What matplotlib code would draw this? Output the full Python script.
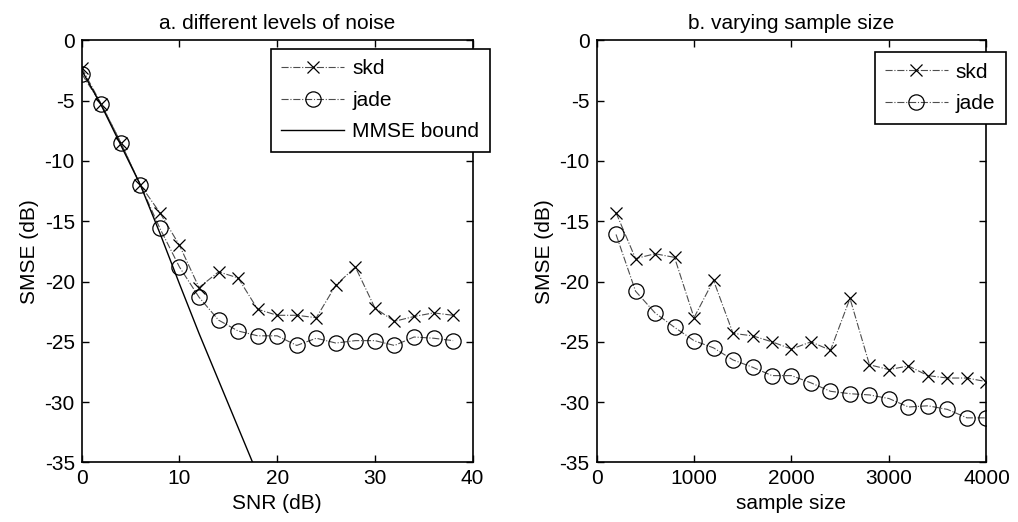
import matplotlib
matplotlib.use("Agg")
import matplotlib.pyplot as plt

plt.rcParams['font.family'] = ['Liberation Sans', 'DejaVu Sans']
plt.rcParams['font.size'] = 15
plt.rcParams['axes.unicode_minus'] = False

# panel a: different levels of noise
snr = [0, 2, 4, 6, 8, 10, 12, 14, 16, 18, 20, 22, 24, 26, 28, 30, 32, 34, 36, 38]
skd_a = [-2.3, -5.3, -8.5, -12.0, -14.3, -17.0, -20.5, -19.2, -19.7, -22.3,
         -22.8, -22.8, -23.0, -20.3, -18.8, -22.2, -23.3, -22.9, -22.6, -22.8]
jade_a = [-2.8, -5.3, -8.5, -12.0, -15.6, -18.8, -21.3, -23.2, -24.1, -24.5,
          -24.5, -25.3, -24.7, -25.1, -24.9, -24.9, -25.3, -24.6, -24.7, -24.9]
snr_bound = [0, 2, 4, 6, 8, 10, 12, 14, 16, 18]
mmse_bound = [-2.5, -5.4, -8.7, -12.0, -16.0, -20.2, -24.3, -28.2, -32.1, -36.0]

# panel b: varying sample size
n_samples = [200, 400, 600, 800, 1000, 1200, 1400, 1600, 1800, 2000,
             2200, 2400, 2600, 2800, 3000, 3200, 3400, 3600, 3800, 4000]
skd_b = [-14.3, -18.1, -17.7, -18.0, -23.0, -19.9, -24.3, -24.5, -25.0, -25.6,
         -25.0, -25.7, -21.4, -26.9, -27.3, -27.0, -27.8, -28.0, -28.0, -28.3]
jade_b = [-16.1, -20.8, -22.6, -23.8, -24.9, -25.5, -26.5, -27.1, -27.8, -27.8,
          -28.4, -29.1, -29.3, -29.4, -29.7, -30.4, -30.3, -30.6, -31.3, -31.3]

fig = plt.figure(figsize=(10.18, 5.22), dpi=100)
ax1 = fig.add_axes([0.0803, 0.114, 0.384, 0.809])
ax2 = fig.add_axes([0.586, 0.114, 0.383, 0.809])

line_kw = dict(color='0.3', linestyle='-.', linewidth=0.8, markeredgecolor='black',
               markeredgewidth=0.9)

ax1.plot(snr, skd_a, marker='x', markersize=8, label='skd', **line_kw)
ax1.plot(snr, jade_a, marker='o', markersize=11, fillstyle='none', label='jade', **line_kw)
ax1.plot(snr_bound, mmse_bound, color='black', linewidth=1.0, label='MMSE bound')

ax2.plot(n_samples, skd_b, marker='x', markersize=8, label='skd', **line_kw)
ax2.plot(n_samples, jade_b, marker='o', markersize=11, fillstyle='none', label='jade', **line_kw)

ax1.set_xlim(0, 40)
ax1.set_xticks([0, 10, 20, 30, 40])
ax2.set_xlim(0, 4000)
ax2.set_xticks([0, 1000, 2000, 3000, 4000])

for ax in (ax1, ax2):
    ax.set_ylim(-35, 0)
    ax.set_yticks([0, -5, -10, -15, -20, -25, -30, -35])
    ax.tick_params(direction='in', top=True, right=True, length=5, width=1, pad=5)
    for s in ax.spines.values():
        s.set_linewidth(1.2)
    ax.set_ylabel('SMSE (dB)')

ax1.set_xlabel('SNR (dB)')
ax2.set_xlabel('sample size')
ax1.set_title('a. different levels of noise', fontsize=15, pad=8)
ax2.set_title('b. varying sample size', fontsize=15, pad=8)

leg_kw = dict(fancybox=False, framealpha=1, edgecolor='black', handlelength=3.0,
              handletextpad=0.4, labelspacing=0.6, borderpad=0.5, borderaxespad=0,
              bbox_transform=fig.transFigure, loc='upper right')
leg1 = ax1.legend(bbox_to_anchor=(0.481, 0.906), **leg_kw)
leg2 = ax2.legend(bbox_to_anchor=(0.988, 0.900), **leg_kw)
for leg in (leg1, leg2):
    leg.get_frame().set_linewidth(1.2)

fig.savefig('out.png', dpi=100)
